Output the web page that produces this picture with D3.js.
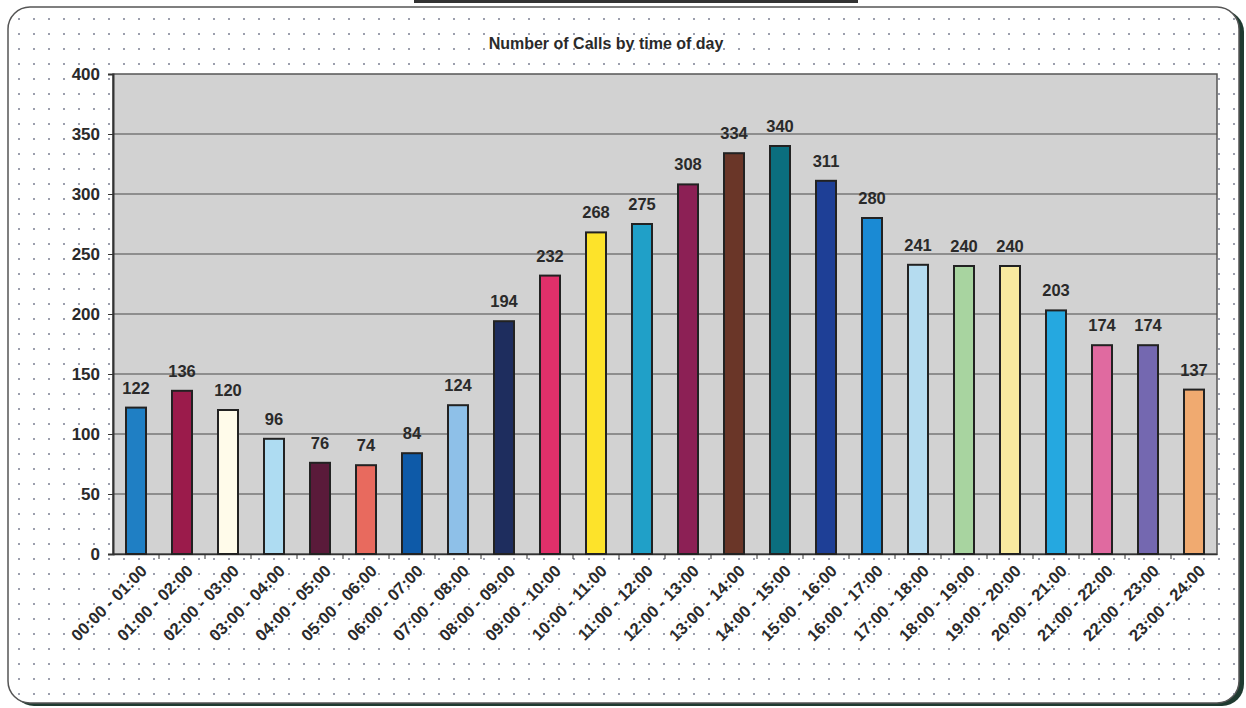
<!DOCTYPE html>
<html lang="en">
<head>
    <meta charset="UTF-8">
    <title>Number of Calls by time of day</title>
    <script src="https://d3js.org/d3.v7.min.js"></script>
    <style>
        body { margin: 0; background: #ffffff; }
        text { font-family: "Liberation Sans", Arial, sans-serif; fill: #2a2a2a; }
    </style>
</head>
<body>
<script>
    // chart data
    const hours = ["00:00 - 01:00", "01:00 - 02:00", "02:00 - 03:00", "03:00 - 04:00", "04:00 - 05:00",
        "05:00 - 06:00", "06:00 - 07:00", "07:00 - 08:00", "08:00 - 09:00", "09:00 - 10:00",
        "10:00 - 11:00", "11:00 - 12:00", "12:00 - 13:00", "13:00 - 14:00", "14:00 - 15:00",
        "15:00 - 16:00", "16:00 - 17:00", "17:00 - 18:00", "18:00 - 19:00", "19:00 - 20:00",
        "20:00 - 21:00", "21:00 - 22:00", "22:00 - 23:00", "23:00 - 24:00"]
    const calls = [122, 136, 120, 96, 76, 74, 84, 124, 194, 232, 268, 275, 308, 334, 340, 311,
        280, 241, 240, 240, 203, 174, 174, 137]
    const barColors = ["#1f7fc4", "#9b1b4b", "#fffbea", "#aedcf2", "#5a1a3a", "#e86a5e", "#0e5aa8",
        "#8ec0e8", "#1e2d5e", "#e0306a", "#fde32a", "#20a0c8", "#8c2055", "#6a3628", "#0b6e7e",
        "#1e3f96", "#1a8ad4", "#b5dcf0", "#a8d4a0", "#f8eaa0", "#25a8e0", "#e06aa0", "#7468b0", "#f0aa70"]
    const yTicks = [0, 50, 100, 150, 200, 250, 300, 350, 400]

    const W = 1246, H = 708
    const plot = {left: 113, right: 1217, top: 74, bottom: 554}

    const svg = d3.select("body")
        .append("svg")
        .attr("width", W)
        .attr("height", H)

    // dotted paper pattern
    const defs = svg.append("defs")
    const pat = defs.append("pattern")
        .attr("id", "dots")
        .attr("width", 15)
        .attr("height", 15)
        .attr("patternUnits", "userSpaceOnUse")
    pat.append("circle")
        .attr("cx", 4)
        .attr("cy", 4)
        .attr("r", 1)
        .attr("fill", "#7a7f92")

    // frame shadow + frame
    svg.append("rect")
        .attr("x", 12).attr("y", 10)
        .attr("width", 1232).attr("height", 696)
        .attr("rx", 22)
        .attr("fill", "#1f3a30")
    svg.append("rect")
        .attr("x", 8).attr("y", 7)
        .attr("width", 1231).attr("height", 696)
        .attr("rx", 22)
        .attr("fill", "#ffffff")
        .attr("stroke", "#555")
        .attr("stroke-width", 1.5)
    svg.append("rect")
        .attr("x", 8).attr("y", 7)
        .attr("width", 1231).attr("height", 696)
        .attr("rx", 22)
        .attr("fill", "url(#dots)")

    // scan artifact bar at top
    svg.append("rect")
        .attr("x", 414).attr("y", 0)
        .attr("width", 444).attr("height", 3)
        .attr("fill", "#333")

    svg.append("text")
        .attr("x", 606)
        .attr("y", 49)
        .attr("text-anchor", "middle")
        .style("font-size", "16px")
        .style("font-weight", "bold")
        .text("Number of Calls by time of day")

    const x = d3.scaleBand()
        .domain(hours)
        .range([plot.left, plot.right])

    const y = d3.scaleLinear()
        .domain([0, 400])
        .range([plot.bottom, plot.top])

    // plot area
    svg.append("rect")
        .attr("x", plot.left)
        .attr("y", plot.top)
        .attr("width", plot.right - plot.left)
        .attr("height", plot.bottom - plot.top)
        .attr("fill", "#d2d2d2")
        .attr("stroke", "#555")
        .attr("stroke-width", 1.5)

    // gridlines
    svg.append("g")
        .selectAll("line")
        .data(yTicks.filter(t => t > 0 && t < 400))
        .enter()
        .append("line")
        .attr("x1", plot.left)
        .attr("x2", plot.right)
        .attr("y1", d => y(d))
        .attr("y2", d => y(d))
        .attr("stroke", "#4a4a4a")
        .attr("stroke-width", 1)

    // y axis
    const yAxis = svg.append("g")
        .attr("transform", `translate(${plot.left}, 0)`)
        .call(d3.axisLeft(y).tickValues(yTicks).tickSize(5).tickPadding(8))
    yAxis.select(".domain").attr("stroke", "#333").attr("stroke-width", 2)
    yAxis.selectAll(".tick line").attr("stroke", "#333")
    yAxis.selectAll("text")
        .style("font-size", "17px")
        .style("font-weight", "bold")
        .attr("fill", "#2a2a2a")

    // x axis
    const xAxis = svg.append("g")
        .attr("transform", `translate(0, ${plot.bottom})`)
        .call(d3.axisBottom(x).tickSize(0).tickPadding(0))
    xAxis.select(".domain").attr("stroke", "#333").attr("stroke-width", 1.5)
    xAxis.selectAll("text")
        .style("font-size", "16.5px")
        .style("font-weight", "bold")
        .attr("fill", "#2a2a2a")
        .attr("text-anchor", "end")
        .attr("dy", "0.35em")
        .attr("transform", "translate(8, 14) rotate(-45)")

    svg.append("g")
        .selectAll("line")
        .data(hours.slice(1))
        .enter()
        .append("line")
        .attr("x1", d => x(d))
        .attr("x2", d => x(d))
        .attr("y1", plot.bottom)
        .attr("y2", plot.bottom + 5)
        .attr("stroke", "#333")

    // bars
    const barW = 20
    svg.append("g")
        .selectAll("rect")
        .data(calls)
        .enter()
        .append("rect")
        .attr("x", (d, i) => x(hours[i]) + x.bandwidth() / 2 - barW / 2)
        .attr("y", d => y(d))
        .attr("width", barW)
        .attr("height", d => plot.bottom - y(d))
        .attr("fill", (d, i) => barColors[i])
        .attr("stroke", "#222")
        .attr("stroke-width", 2)

    // value labels
    svg.append("g")
        .selectAll("text")
        .data(calls)
        .enter()
        .append("text")
        .attr("x", (d, i) => x(hours[i]) + x.bandwidth() / 2)
        .attr("y", d => y(d) - 14)
        .attr("text-anchor", "middle")
        .style("font-size", "16.5px")
        .style("font-weight", "bold")
        .text(d => d)
</script>
</body>
</html>
